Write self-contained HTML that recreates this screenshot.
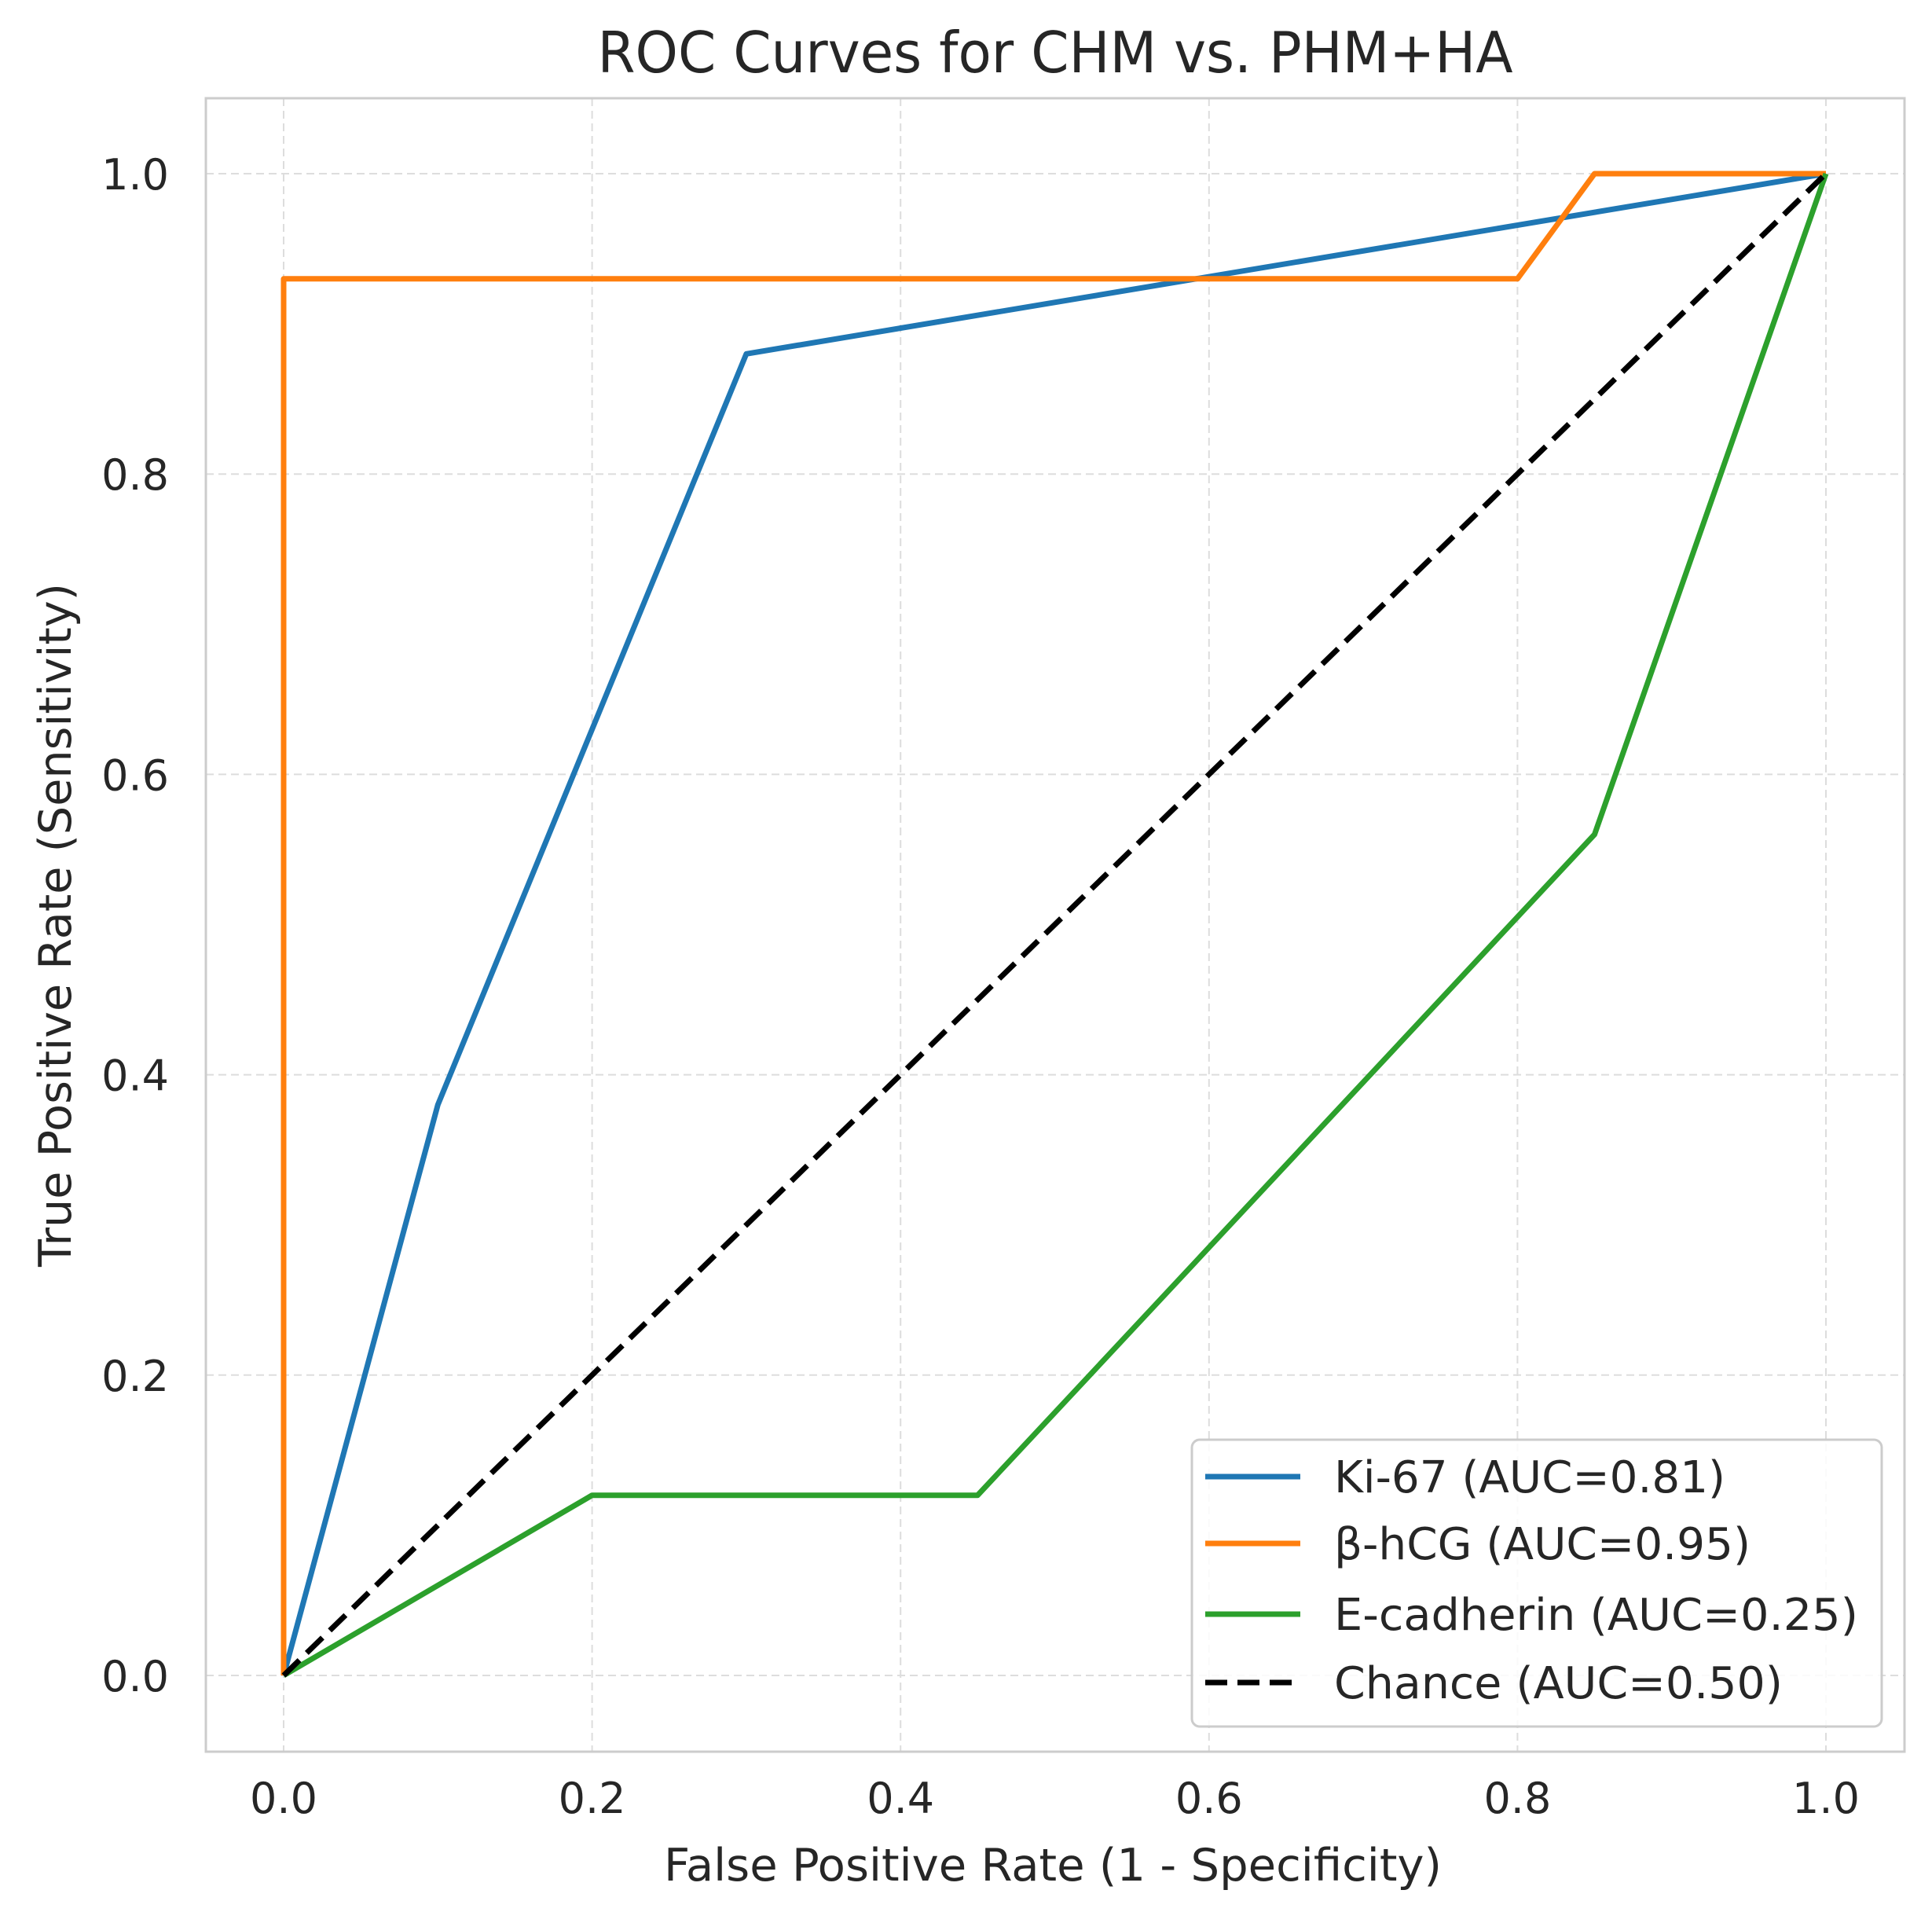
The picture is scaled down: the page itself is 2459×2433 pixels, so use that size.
<!DOCTYPE html>
<html><head><meta charset="utf-8"><style>
html,body{margin:0;padding:0;background:#fff;}
svg{display:block;font-family:"DejaVu Sans","Liberation Sans",sans-serif;}
</style></head><body>
<svg id="chart" width="2459" height="2433" viewBox="0 0 2459 2433" xmlns="http://www.w3.org/2000/svg">
<rect x="0" y="0" width="2459" height="2433" fill="#fff"/>
<text x="1343" y="92" font-size="72" fill="#262626" text-anchor="middle" textLength="1165" lengthAdjust="spacingAndGlyphs">ROC Curves for CHM vs. PHM+HA</text>
<g id="grid"></g>
<rect x="262" y="125" width="2162" height="2104" fill="none" stroke="#cccccc" stroke-width="3"/>
<g id="ticks"></g>
<g id="series"></g>
<text x="1340" y="2393" font-size="57" fill="#262626" text-anchor="middle" textLength="990" lengthAdjust="spacingAndGlyphs">False Positive Rate (1 - Specificity)</text>
<text x="0" y="0" font-size="57" fill="#262626" text-anchor="middle" transform="translate(90,1177) rotate(-90)" textLength="870" lengthAdjust="spacingAndGlyphs">True Positive Rate (Sensitivity)</text>
<g id="legend"></g>
</svg>
<script>
const xTicks = [0, 0.2, 0.4, 0.6, 0.8, 1.0];
const yTicks = [0, 0.2, 0.4, 0.6, 0.8, 1.0];
const tickLabels = ["0.0", "0.2", "0.4", "0.6", "0.8", "1.0"];
const seriesNames = ["Ki-67 (AUC=0.81)", "β-hCG (AUC=0.95)", "E-cadherin (AUC=0.25)", "Chance (AUC=0.50)"];
const ki67Fpr = [0, 0.1, 0.3, 1.0];
const ki67Tpr = [0, 0.38, 0.88, 1.0];
const hcgFpr = [0, 0, 0.8, 0.85, 1.0];
const hcgTpr = [0, 0.93, 0.93, 1.0, 1.0];
const ecadFpr = [0, 0.2, 0.45, 0.85, 1.0];
const ecadTpr = [0, 0.12, 0.12, 0.56, 1.0];
const chanceFpr = [0, 1];
const chanceTpr = [0, 1];

const NS = "http://www.w3.org/2000/svg";
const X0 = 361, X1 = 2324, Y0 = 2132, Y1 = 221;
function sx(v){ return X0 + v * (X1 - X0); }
function sy(v){ return Y0 + v * (Y1 - Y0); }
function mk(tag, attrs, parent){
  const e = document.createElementNS(NS, tag);
  for (const k in attrs) e.setAttribute(k, attrs[k]);
  parent.appendChild(e);
  return e;
}
const grid = document.getElementById('grid');
const ticks = document.getElementById('ticks');
xTicks.forEach((v, i) => {
  const l = mk('line', {x1: sx(v), x2: sx(v), y1: 125, y2: 2229, stroke: '#dddddd', 'stroke-width': 2, 'stroke-dasharray': '10,6'}, grid);
  
  
  const t = mk('text', {x: sx(v), y: 2307, 'font-size': 54, fill: '#262626', 'text-anchor': 'middle'}, ticks);
  
  
  t.textContent = tickLabels[i];
});
yTicks.forEach((v, i) => {
  const l = mk('line', {x1: 262, x2: 2424, y1: sy(v), y2: sy(v), stroke: '#dddddd', 'stroke-width': 2, 'stroke-dasharray': '10,6'}, grid);
  
  
  const t = mk('text', {x: 215, y: sy(v) + 20, 'font-size': 54, fill: '#262626', 'text-anchor': 'end'}, ticks);
  
  
  t.textContent = tickLabels[i];
});
const series = document.getElementById('series');
const defs = [
  {xs: ki67Fpr, ys: ki67Tpr, color: '#1f77b4', dash: null, name: 'ki67-curve'},
  {xs: hcgFpr, ys: hcgTpr, color: '#ff7f0e', dash: null, name: 'bhcg-curve'},
  {xs: ecadFpr, ys: ecadTpr, color: '#2ca02c', dash: null, name: 'ecadherin-curve'},
  {xs: chanceFpr, ys: chanceTpr, color: '#000000', dash: '28,13', name: 'chance-line'}
];
defs.forEach(d => {
  const pts = d.xs.map((x, i) => sx(x).toFixed(1) + ',' + sy(d.ys[i]).toFixed(1)).join(' ');
  const a = {points: pts, fill: 'none', stroke: d.color, 'stroke-width': 7, 'stroke-linejoin': 'round'};
  if (d.dash) a['stroke-dasharray'] = d.dash;
  const p = mk('polyline', a, series);
  
  
});
const legend = document.getElementById('legend');
const box = mk('rect', {x: 1517, y: 1832, width: 878, height: 365, rx: 10, fill: '#fff', 'fill-opacity': 0.85, stroke: '#cccccc', 'stroke-width': 3}, legend);


const rowY = [1879, 1964, 2054, 2141];
const widths = [498, 530, 667, 571];
defs.forEach((d, i) => {
  const a = {x1: 1534, x2: 1655, y1: rowY[i], y2: rowY[i], stroke: d.color, 'stroke-width': 7};
  if (d.dash) a['stroke-dasharray'] = d.dash;
  const l = mk('line', a, legend);
  
  
  const t = mk('text', {x: 1698, y: rowY[i] + 20, 'font-size': 56, fill: '#262626', textLength: widths[i], lengthAdjust: 'spacingAndGlyphs'}, legend);
  
  
  t.textContent = seriesNames[i];
});
</script>
</body></html>
